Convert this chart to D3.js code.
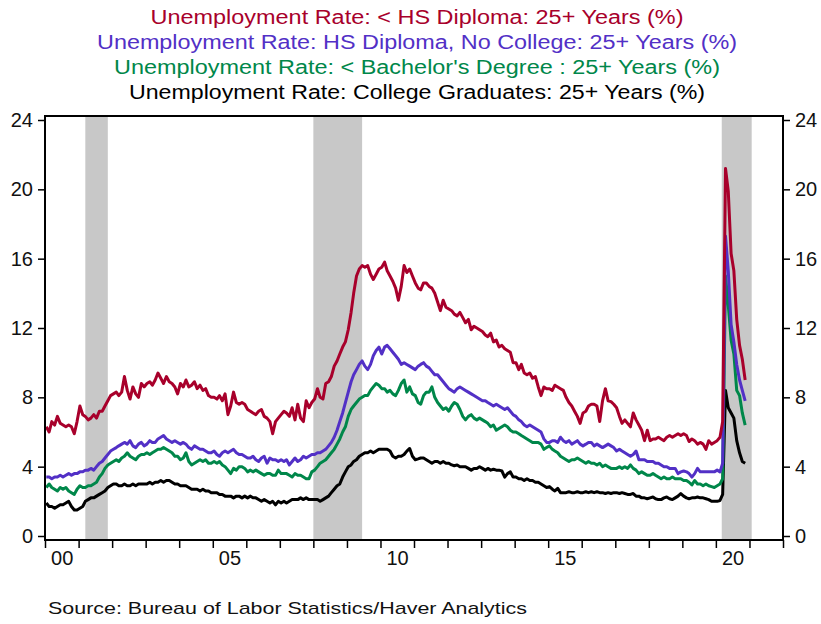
<!DOCTYPE html>
<html>
<head>
<meta charset="utf-8">
<script src="https://cdn.jsdelivr.net/npm/d3@7"></script>
<style>
  body { margin: 0; background: #fff; }
  svg { display: block; font-family: "Liberation Sans", Arial, sans-serif; }
</style>
</head>
<body>
<svg id="chart" width="821" height="624"></svg>
<script>
// monthly, Jan 2000 .. Nov 2020 (one row per year)
var lessHS = [
  6.3, 6.0, 6.6, 6.4, 6.9, 6.5, 6.4, 6.3, 6.4, 6.3, 5.9, 6.6,
  7.5, 7.0, 6.9, 6.7, 6.8, 7.0, 6.8, 7.2, 7.2, 7.5, 7.8, 8.1,
  8.2, 8.3, 8.1, 8.3, 9.2, 8.4, 7.9, 8.6, 8.2, 8.0, 8.8, 8.6,
  8.8, 8.9, 8.7, 9.0, 9.4, 9.1, 8.8, 9.2, 8.9, 8.8, 8.6, 8.2,
  8.8, 8.6, 9.0, 8.6, 8.7, 8.9, 8.5, 8.7, 8.4, 8.5, 8.1, 8.0,
  8.0, 7.9, 8.1, 7.8, 8.2, 7.0, 7.5, 8.3, 7.7, 7.6, 7.7, 7.6,
  7.3, 7.2, 7.1, 7.0, 7.2, 7.3, 6.9, 6.8, 6.6, 5.9, 6.6, 6.8,
  7.0, 7.2, 7.1, 6.9, 7.4, 6.7, 7.6, 6.8, 6.6, 7.8, 7.4, 7.7,
  7.9, 8.5, 8.0, 7.9, 8.8, 8.9, 9.2, 9.8, 10.1, 10.5, 10.9, 11.2,
  11.9, 12.9, 14.0, 15.0, 15.4, 15.6, 15.5, 15.6, 15.1, 14.8, 15.1, 15.4,
  15.5, 15.8, 15.3, 15.0, 14.7, 14.3, 13.6, 14.4, 15.6, 15.2, 15.4, 15.0,
  14.6, 14.3, 14.2, 14.6, 14.6, 14.4, 14.3, 14.0, 13.5, 13.0, 13.6, 13.2,
  13.1, 13.0, 12.8, 12.7, 12.9, 12.6, 12.3, 12.5, 11.9, 12.1, 12.0, 11.9,
  11.8, 11.6, 11.5, 11.7, 11.2, 11.3, 10.9, 11.0, 10.8, 10.7, 10.6, 10.0,
  10.0, 9.6, 9.9, 9.4, 9.3, 9.4, 9.1, 9.2, 8.6, 8.1, 8.6, 8.5,
  8.5, 8.4, 8.7, 8.6, 8.5, 8.4, 8.0, 7.7, 7.5, 7.2, 6.9, 6.5,
  7.1, 7.2, 7.5, 7.6, 7.6, 7.5, 6.6, 7.8, 8.5, 7.8, 7.75, 7.6,
  7.4, 6.9, 6.5, 6.7, 6.5, 6.3, 7.1, 6.7, 6.4, 6.1, 5.5, 6.1,
  5.5, 5.6, 5.6, 5.7, 5.6, 5.5, 5.7, 5.8, 5.7, 5.8, 5.9, 5.8,
  5.9, 5.8, 5.45, 5.6, 5.5, 5.3, 5.4, 5.3, 5.0, 5.5, 5.3, 5.4,
  5.5, 5.7, 6.6, 21.2, 19.9, 16.3, 15.3, 12.5, 11.0, 10.2, 9.0
];
var hsNoCollege = [
  3.4, 3.4, 3.3, 3.4, 3.4, 3.5, 3.4, 3.5, 3.6, 3.5, 3.6, 3.6,
  3.7, 3.7, 3.8, 3.8, 3.9, 3.8, 4.0, 4.2, 4.3, 4.5, 4.7, 4.9,
  5.0, 5.1, 5.2, 5.3, 5.4, 5.3, 5.5, 5.2, 5.1, 5.3, 5.4, 5.2,
  5.3, 5.5, 5.4, 5.4, 5.6, 5.7, 5.8, 5.6, 5.5, 5.4, 5.5, 5.4,
  5.3, 5.4, 5.3, 5.1, 5.0, 5.2, 5.1, 5.0, 5.0, 4.9, 4.8, 4.8,
  4.9, 4.7, 4.6, 4.8, 4.9, 4.8, 4.9, 5.0, 4.8, 4.7, 4.7, 4.6,
  4.5, 4.5, 4.6, 4.4, 4.3, 4.5, 4.6, 4.2, 4.5, 4.4, 4.4, 4.3,
  4.4, 4.3, 4.4, 4.1, 4.3, 4.5, 4.3, 4.4, 4.6, 4.5, 4.6, 4.7,
  4.7, 4.8, 4.8, 4.9, 5.0, 5.2, 5.4, 5.7, 6.1, 6.6, 7.1, 7.7,
  8.3, 8.9, 9.3, 9.6, 9.9, 10.1, 9.8, 9.6, 9.9, 10.4, 10.7, 10.9,
  10.5, 10.9, 11.0, 10.8, 10.6, 10.4, 10.2, 9.9, 10.0, 9.9, 9.8, 9.7,
  9.6, 9.8, 9.9, 10.0, 9.8, 9.7, 9.5, 9.3, 9.3, 9.1, 8.9, 8.7,
  8.5, 8.4, 8.3, 8.5, 8.6, 8.5, 8.4, 8.3, 8.2, 8.1, 8.0, 7.9,
  7.8, 7.8, 7.7, 7.6, 7.5, 7.6, 7.5, 7.4, 7.3, 7.4, 7.2, 7.0,
  6.9, 6.7, 6.6, 6.4, 6.3, 6.4, 6.3, 6.2, 6.1, 6.0, 5.6, 5.4,
  5.4, 5.5, 5.5, 5.4, 5.7, 5.5, 5.4, 5.5, 5.3, 5.4, 5.5, 5.3,
  5.2, 5.3, 5.4, 5.4, 5.2, 5.3, 5.2, 5.1, 5.2, 5.3, 5.2, 5.1,
  4.9, 5.0, 4.9, 4.8, 4.7, 4.6, 4.7, 4.9, 4.4, 4.4, 4.4, 4.3,
  4.3, 4.3, 4.2, 4.2, 4.1, 4.0, 4.0, 3.9, 3.9, 3.9, 3.6, 3.7,
  3.75, 3.7, 3.6, 3.4, 3.6, 3.9, 3.7, 3.7, 3.7, 3.7, 3.7, 3.7,
  3.8, 3.7, 4.2, 17.3, 15.3, 12.2, 11.2, 9.9, 9.0, 8.4, 7.8
];
var lessBachelors = [
  2.8, 3.0, 2.8, 2.7, 2.6, 2.8, 2.7, 2.8, 2.6, 2.5, 2.4, 2.7,
  2.9, 2.8, 2.8, 2.9, 2.9, 3.0, 3.1, 3.4, 3.6, 3.9, 4.1, 4.2,
  4.3, 4.4, 4.3, 4.5, 4.6, 4.8, 4.6, 4.5, 4.4, 4.6, 4.7, 4.7,
  4.8, 4.7, 4.8, 4.9, 5.0, 5.0, 5.1, 5.0, 4.9, 4.8, 4.6, 4.6,
  4.4, 4.5, 4.8, 4.3, 4.1, 4.2, 4.3, 4.4, 4.3, 4.4, 4.2, 4.2,
  4.3, 4.2, 4.3, 4.1, 4.0, 3.8, 3.6, 3.9, 3.8, 4.0, 4.0, 3.9,
  3.7, 3.8, 3.7, 3.8, 3.7, 3.6, 3.5, 3.6, 3.6, 3.5, 3.5, 3.8,
  3.6, 3.6, 3.6, 3.5, 3.4, 3.6, 3.5, 3.5, 3.4, 3.3, 3.3, 3.7,
  3.8, 4.0, 4.2, 4.3, 4.4, 4.6, 4.8, 5.0, 5.3, 5.6, 6.0, 6.3,
  6.9, 7.3, 7.5, 7.7, 7.9, 8.0, 8.1, 8.1, 8.4, 8.6, 8.8, 8.7,
  8.5, 8.5, 8.3, 8.4, 8.2, 8.1, 8.4, 8.8, 9.0, 8.3, 8.6, 8.2,
  8.1, 7.7, 7.6, 8.1, 8.3, 8.3, 8.6, 8.0, 7.7, 7.5, 7.3, 7.4,
  7.2, 7.5, 7.7, 7.6, 7.3, 6.9, 6.7, 6.9, 7.0, 6.8, 6.7, 6.8,
  6.7, 6.6, 6.5, 6.3, 6.4, 6.1, 6.2, 6.3, 6.4, 6.3, 6.1, 6.0,
  6.0, 5.9, 5.8, 5.7, 5.6, 5.5, 5.4, 5.4, 5.4, 5.3, 5.0, 5.1,
  5.2, 5.0, 4.9, 4.8, 4.6, 4.5, 4.4, 4.3, 4.4, 4.4, 4.5, 4.4,
  4.3, 4.2, 4.3, 4.2, 4.2, 4.1, 4.2, 4.0, 4.1, 4.0, 3.9, 3.9,
  3.9, 4.0, 3.9, 4.0, 3.9, 4.1, 3.9, 3.8, 3.6, 3.7, 3.6, 3.5,
  3.5, 3.6, 3.5, 3.4, 3.3, 3.4, 3.3, 3.3, 3.4, 3.3, 3.3, 3.3,
  3.2, 3.2, 3.1, 2.95, 3.2, 3.0, 3.0, 2.9, 3.0, 2.9, 2.85, 2.8,
  2.9, 3.0, 3.3, 15.0, 13.3, 11.3, 10.5, 8.4, 8.1, 7.1, 6.4
];
var collegeGrads = [
  1.9, 1.7, 1.7, 1.6, 1.7, 1.8, 1.8, 1.9, 2.0, 1.7, 1.5, 1.5,
  1.6, 1.7, 2.0, 2.1, 2.2, 2.2, 2.3, 2.4, 2.5, 2.6, 2.8, 2.9,
  3.0, 3.0, 2.9, 2.9, 3.0, 2.9, 2.9, 3.0, 2.9, 3.0, 3.0, 3.0,
  3.0, 3.1, 3.0, 3.1, 3.1, 3.2, 3.1, 3.2, 3.2, 3.1, 3.0, 3.0,
  2.9, 2.9, 2.9, 2.8, 2.7, 2.7, 2.7, 2.6, 2.7, 2.6, 2.6, 2.5,
  2.5, 2.5, 2.4, 2.4, 2.3, 2.3, 2.3, 2.2, 2.3, 2.3, 2.2, 2.3,
  2.2, 2.3, 2.2, 2.2, 2.1, 2.0, 2.1, 2.0, 1.9, 2.0, 1.8, 2.0,
  1.9, 2.0, 1.9, 2.0, 2.1, 2.1, 2.1, 2.2, 2.1, 2.2, 2.1, 2.1,
  2.1, 2.1, 2.0, 2.1, 2.2, 2.3, 2.5, 2.7, 2.9, 3.0, 3.4, 3.7,
  4.0, 4.1, 4.3, 4.4, 4.6, 4.7, 4.8, 4.8, 4.9, 4.8, 4.9, 5.0,
  5.0, 5.0, 5.0, 4.9, 4.6, 4.5, 4.6, 4.6, 4.7, 4.9, 5.05, 4.6,
  4.4, 4.45, 4.5, 4.5, 4.4, 4.3, 4.2, 4.3, 4.3, 4.2, 4.3, 4.2,
  4.2, 4.1, 4.05, 4.1, 4.0, 4.0, 4.0, 3.9, 3.8, 3.9, 3.9, 4.0,
  3.9, 3.8, 3.9, 3.8, 3.85, 3.8, 3.8, 3.75, 3.4, 3.6, 3.7, 3.4,
  3.4, 3.3, 3.3, 3.2, 3.3, 3.2, 3.2, 3.1, 3.1, 3.0, 2.9, 2.8,
  2.85, 2.7, 2.6, 2.75, 2.5, 2.5, 2.5, 2.55, 2.5, 2.5, 2.55, 2.5,
  2.5, 2.55, 2.5, 2.55, 2.5, 2.55, 2.5, 2.5, 2.45, 2.5, 2.45, 2.5,
  2.5, 2.45, 2.5, 2.45, 2.4, 2.4, 2.45, 2.3, 2.3, 2.2, 2.2, 2.15,
  2.2, 2.25, 2.15, 2.1, 2.1, 2.2, 2.25, 2.15, 2.1, 2.2, 2.3, 2.45,
  2.3, 2.2, 2.15, 2.2, 2.2, 2.25, 2.2, 2.2, 2.15, 2.1, 2.0, 2.0,
  2.0, 2.05, 2.4, 8.4, 7.4, 7.1, 6.8, 5.5, 4.8, 4.3, 4.2
];

var seriesNames = [
  "Unemployment Rate: < HS Diploma: 25+ Years (%)",
  "Unemployment Rate: HS Diploma, No College: 25+ Years (%)",
  "Unemployment Rate: < Bachelor's Degree : 25+ Years (%)",
  "Unemployment Rate: College Graduates: 25+ Years (%)"
];
var seriesColors = ["#a8002b", "#5230c6", "#00874a", "#000000"];
var titleWidths = [533, 640, 606, 576];

var recessions = [
  ["2001-03-15", "2001-11-15"],
  ["2008-01-01", "2009-06-15"],
  ["2020-03-05", "2021-01-25"]
];
var yTicks = [0, 4, 8, 12, 16, 20, 24];
var labelYears = [2000, 2005, 2010, 2015, 2020];
var sourceText = "Source:  Bureau of Labor Statistics/Haver Analytics";

var svg = d3.select("#chart");
var parse = d3.utcParse("%Y-%m-%d");

// plot box (window.top is read-only, so no bare "top")
var boxL = 45, boxR = 783, boxT = 116, boxB = 540;

var x = d3.scaleUtc()
    .domain([Date.UTC(2000, 0, 1), Date.UTC(2022, 0, 1)])
    .range([boxL, boxR]);
var y = d3.scaleLinear().domain([0, 24]).range([536, 120]);

var months = d3.utcMonth.range(Date.UTC(2000, 0, 1), Date.UTC(2020, 11, 1))
    .map(function(d) { return d3.utcDay.offset(d, 14); });

// titles
svg.selectAll(".title")
  .data(seriesNames)
  .enter().append("text")
    .attr("class", "title")
    .attr("x", 417)
    .attr("y", function(d, i) { return 24 + i * 25; })
    .attr("text-anchor", "middle")
    .attr("textLength", function(d, i) { return titleWidths[i]; })
    .attr("lengthAdjust", "spacingAndGlyphs")
    .style("font-size", "20px")
    .style("fill", function(d, i) { return seriesColors[i]; })
    .text(function(d) { return d; });

// recession bars
svg.selectAll(".rec")
  .data(recessions)
  .enter().append("rect")
    .attr("class", "rec")
    .attr("x", function(d) { return x(parse(d[0])); })
    .attr("y", boxT)
    .attr("width", function(d) { return x(parse(d[1])) - x(parse(d[0])); })
    .attr("height", boxB - boxT)
    .style("fill", "#c8c8c8");

// lines, drawn back to front
var allSeries = [lessHS, hsNoCollege, lessBachelors, collegeGrads];
var line = d3.line()
    .x(function(d, i) { return x(months[i]); })
    .y(function(d) { return y(d); });

[3, 2, 1, 0].forEach(function(k) {
  svg.append("path")
      .datum(allSeries[k])
      .attr("d", line)
      .style("fill", "none")
      .style("stroke", seriesColors[k])
      .style("stroke-width", 3)
      .style("stroke-linejoin", "round");
});

// frame
svg.append("rect")
    .attr("x", boxL).attr("y", boxT)
    .attr("width", boxR - boxL).attr("height", boxB - boxT)
    .style("fill", "none").style("stroke", "#000").style("stroke-width", 2);

function styleAxis(g) {
  g.select(".domain").remove();
  g.selectAll("line").style("stroke", "#000").style("stroke-width", 1.5);
  g.selectAll("text").style("font-size", "20px").style("fill", "#111")
      .style("font-family", "'Liberation Sans', Arial, sans-serif");
}

svg.append("g")
    .attr("transform", "translate(" + boxL + ",0)")
    .call(d3.axisLeft(y).tickValues(yTicks).tickSize(7).tickPadding(5))
    .call(styleAxis);

svg.append("g")
    .attr("transform", "translate(" + boxR + ",0)")
    .call(d3.axisRight(y).tickValues(yTicks).tickSize(7).tickPadding(5))
    .call(styleAxis);

// year tick marks
svg.append("g")
    .attr("transform", "translate(0," + boxB + ")")
    .call(d3.axisBottom(x).ticks(d3.utcYear.every(1)).tickSize(8).tickFormat(""))
    .call(styleAxis);

// year labels, centred mid-year
svg.append("g")
    .attr("transform", "translate(0," + boxB + ")")
    .call(d3.axisBottom(x)
        .tickValues(labelYears.map(function(yr) { return Date.UTC(yr, 6, 1); }))
        .tickSize(0).tickPadding(11)
        .tickFormat(function(d) { return d3.utcFormat("%y")(d); }))
    .call(styleAxis);

svg.append("text")
    .attr("x", 48)
    .attr("y", 614)
    .attr("textLength", 479)
    .attr("lengthAdjust", "spacingAndGlyphs")
    .style("font-size", "17px")
    .style("fill", "#111")
    .text(sourceText);
</script>
</body>
</html>
